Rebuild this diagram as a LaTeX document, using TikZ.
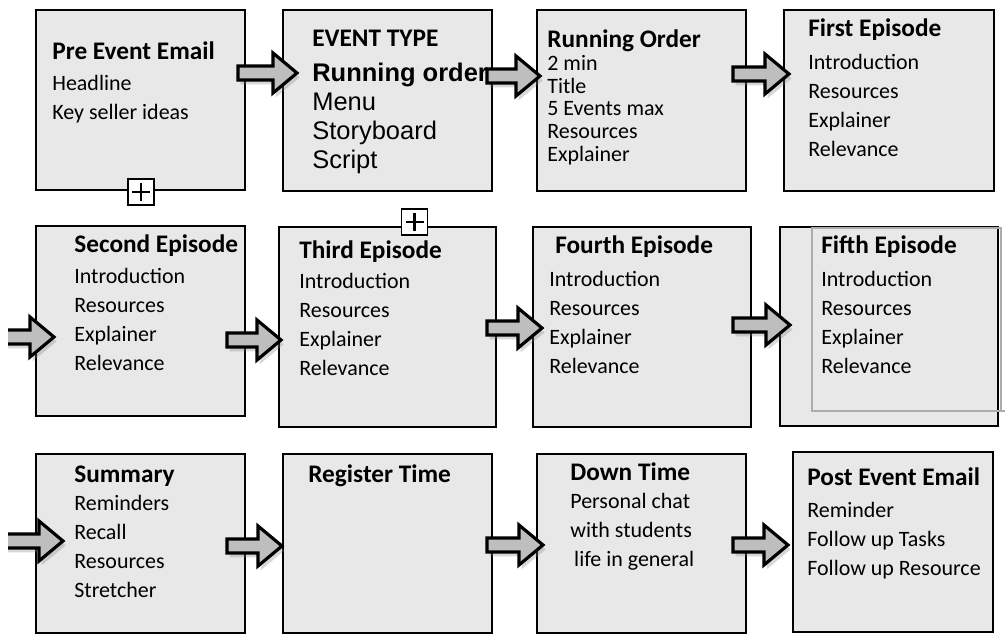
\documentclass[tikz,border=0pt]{standalone}
\usepackage{fontspec}
\setmainfont{Carlito}
\newfontfamily\arialfont{Liberation Sans}
\usetikzlibrary{calc,shadows}
\definecolor{BoxGrey}{RGB}{232,232,232}
\definecolor{ArrowGrey}{RGB}{190,190,190}
\definecolor{FrameGrey}{RGB}{172,172,172}

\newcommand{\ttl}[1]{{\fontsize{14.4}{16.5}\selectfont\bfseries #1}}
\newcommand{\arl}[1]{{\arialfont\fontsize{14.5}{16.5}\selectfont #1}}
\newcommand{\boxlines}[1]{\begin{tabular}[t]{@{}l@{}}#1\end{tabular}}

\begin{document}
\begin{tikzpicture}[
  x=0.02cm, y=-0.02cm,
  stagebox/.style={draw=black, fill=BoxGrey, line width=1.6pt, inner sep=0pt},
  stagetext/.style={anchor=base west, inner sep=0pt, font=\fontsize{12.5}{16.5}\selectfont},
  plusbox/.style={draw=black, fill=white, line width=1.1pt, minimum size=0.52cm, inner sep=0pt,
    path picture={\draw[line width=1.3pt]
      ($(path picture bounding box.center)+(-9,0)$) -- ($(path picture bounding box.center)+(9,0)$)
      ($(path picture bounding box.center)+(0,-9)$) -- ($(path picture bounding box.center)+(0,9)$);}},
  blockarrow/.style={draw=black, fill=ArrowGrey, line width=1.8pt,
    drop shadow={opacity=0.3, shadow xshift=1.5pt, shadow yshift=-2.5pt},
    to path={($(\tikztostart)+(0,-7)$) -- ($(\tikztotarget)+(-24,-7)$) -- ($(\tikztotarget)+(-24,-20)$)
      -- (\tikztotarget) -- ($(\tikztotarget)+(-24,20)$) -- ($(\tikztotarget)+(-24,7)$)
      -- ($(\tikztostart)+(0,7)$) -- cycle}}
]
\fill[white] (0,0) rectangle (1005,635);
\useasboundingbox (0,0) rectangle (1005,635);
\clip (8,0) rectangle (1005,635);

% boxes
\node[stagebox, minimum width=4.18cm, minimum height=3.60cm] (preemail) at (140.5,100) {};
\node[stagebox, minimum width=4.18cm, minimum height=3.62cm] (eventtype) at (387.5,100.5) {};
\node[stagebox, minimum width=4.18cm, minimum height=3.62cm] (runorder) at (641.5,100.5) {};
\node[stagebox, minimum width=4.20cm, minimum height=3.62cm] (ep1) at (889,100.5) {};
\node[stagebox, minimum width=4.18cm, minimum height=3.80cm] (ep2) at (140.5,321) {};
\node[stagebox, minimum width=4.34cm, minimum height=4.00cm] (ep3) at (387.5,327) {};
\node[stagebox, minimum width=4.36cm, minimum height=4.00cm] (ep4) at (642,327) {};
\node[stagebox, minimum width=4.36cm, minimum height=3.98cm] (ep5) at (889,326.5) {};
\node[stagebox, minimum width=4.18cm, minimum height=3.58cm] (summary) at (140.5,543.5) {};
\node[stagebox, minimum width=4.18cm, minimum height=3.58cm] (register) at (387.5,543.5) {};
\node[stagebox, minimum width=4.18cm, minimum height=3.58cm] (downtime) at (641.5,543.5) {};
\node[stagebox, minimum width=4.00cm, minimum height=3.60cm] (postemail) at (893,542) {};

% grey frame over the fifth episode
\draw[FrameGrey, line width=1pt] (812,228) rectangle (1001,411) (1001,411) -- (1005,411);

% texts
\node[stagetext] (preemail-t) at (52,60) {\boxlines{\ttl{Pre Event Email}\\[1pt] Headline\\ Key seller ideas}};
\node[stagetext] (eventtype-t) at (312,47) {\boxlines{\ttl{EVENT TYPE}\\[3pt] \arl{\bfseries Running order}\\ \arl{Menu}\\ \arl{Storyboard}\\ \arl{Script}}};
\node[stagetext, font=\fontsize{12.5}{12.9}\selectfont] (runorder-t) at (547,48) {\boxlines{\ttl{Running Order}\\ 2 min\\ Title\\ 5 Events max\\ Resources\\ Explainer}};
\node[stagetext] (ep1-t) at (808,37) {\boxlines{\ttl{First Episode}\\[2pt] Introduction\\ Resources\\ Explainer\\ Relevance}};
\node[stagetext] (ep2-t) at (74,253) {\boxlines{\ttl{Second Episode}\\[1pt] Introduction\\ Resources\\ Explainer\\ Relevance}};
\node[stagetext] (ep3-t) at (299,258) {\boxlines{\ttl{Third Episode}\\[1pt] Introduction\\ Resources\\ Explainer\\ Relevance}};
\node[stagetext] (ep4-t) at (549,254) {\boxlines{\hspace*{3.4pt}\ttl{Fourth Episode}\\[2pt] Introduction\\ Resources\\ Explainer\\ Relevance}};
\node[stagetext] (ep5-t) at (821,254) {\boxlines{\ttl{Fifth Episode}\\[2pt] Introduction\\ Resources\\ Explainer\\ Relevance}};
\node[stagetext] (summary-t) at (74,482) {\boxlines{\ttl{Summary}\\ Reminders\\ Recall\\ Resources\\ Stretcher}};
\node[stagetext] (register-t) at (308,482) {\boxlines{\ttl{Register Time}}};
\node[stagetext] (downtime-t) at (570,480) {\boxlines{\ttl{Down Time}\\ Personal chat\\ with students\\ \hspace*{2.2pt}life in general}};
\node[stagetext] (postemail-t) at (807,485) {\boxlines{\ttl{Post Event Email}\\[2pt] Reminder\\ Follow up Tasks\\ Follow up Resource}};

% plus markers
\node[plusbox] (plus1) at (141,192) {};
\node[plusbox] (plus2) at (414.5,222) {};

% arrow ends
\coordinate (a1s) at (238,73);  \coordinate (a1e) at (297,73);
\coordinate (a2s) at (487,76);  \coordinate (a2e) at (540,76);
\coordinate (a3s) at (733,74);  \coordinate (a3e) at (789,74);
\coordinate (a4s) at (0,337);   \coordinate (a4e) at (54,337);
\coordinate (a5s) at (227,340); \coordinate (a5e) at (281,340);
\coordinate (a6s) at (487,328); \coordinate (a6e) at (542,328);
\coordinate (a7s) at (733,325); \coordinate (a7e) at (790,325);
\coordinate (a8s) at (0,541);   \coordinate (a8e) at (63,541);
\coordinate (a9s) at (227,546); \coordinate (a9e) at (282,546);
\coordinate (a10s) at (487,545); \coordinate (a10e) at (543,545);
\coordinate (a11s) at (733,545); \coordinate (a11e) at (788,545);

\foreach \i in {1,...,11}
  \draw[blockarrow] (a\i s) to (a\i e);
\end{tikzpicture}
\end{document}
